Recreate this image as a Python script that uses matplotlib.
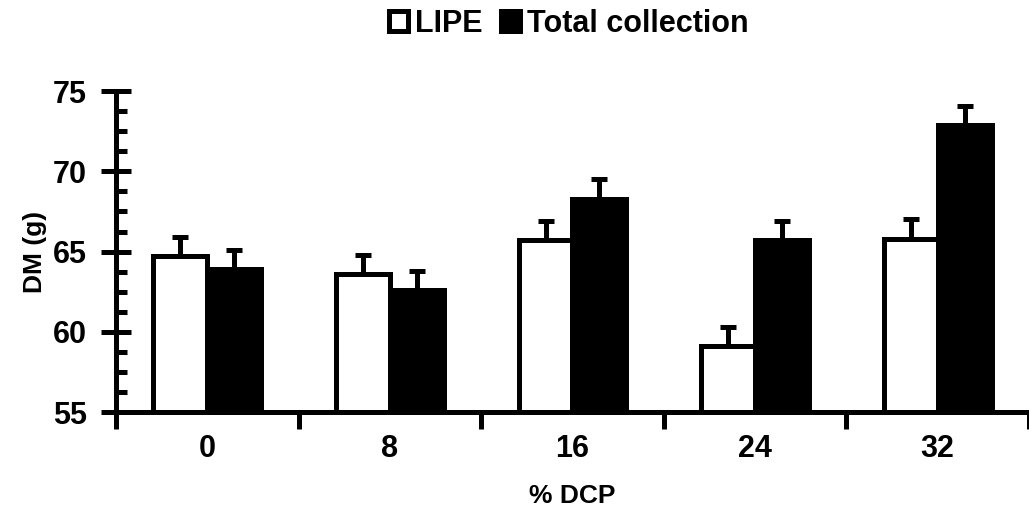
import numpy as np
import matplotlib.pyplot as plt
from matplotlib.patches import Patch
from matplotlib.ticker import MultipleLocator, FixedLocator

plt.rcParams['font.family'] = ['Liberation Sans', 'DejaVu Sans']
plt.rcParams['font.weight'] = 'bold'

groups = ['0', '8', '16', '24', '32']
lipe = [64.7, 63.6, 65.7, 59.1, 65.8]
lipe_err = [1.2, 1.2, 1.2, 1.2, 1.2]
total = [63.9, 62.6, 68.3, 65.7, 72.9]
total_err = [1.2, 1.2, 1.2, 1.2, 1.2]

x = np.arange(len(groups))
w = 0.295
lw = 3.6

fig = plt.figure(figsize=(10.29, 5.26), dpi=100)
ax = fig.add_axes([0.1127, 0.2167, 0.8873, 0.61])

ekw = dict(elinewidth=lw, capthick=lw, capsize=6, ecolor='black')
ax.bar(x - w / 2, lipe, w, color='white', edgecolor='black', linewidth=lw,
       yerr=[np.zeros(5), lipe_err], error_kw=ekw, zorder=2)
ax.bar(x + w / 2, total, w, color='black', edgecolor='black', linewidth=lw,
       yerr=[np.zeros(5), total_err], error_kw=ekw, zorder=2)

ax.set_ylim(55, 75)
ax.set_xlim(-0.5, 4.5)

for s in ['top', 'right']:
    ax.spines[s].set_visible(False)
for s in ['left', 'bottom']:
    ax.spines[s].set_linewidth(lw)
    ax.spines[s].set_capstyle('round')

ax.yaxis.set_major_locator(MultipleLocator(5))
ax.yaxis.set_minor_locator(MultipleLocator(1.25))
ax.tick_params(axis='y', which='major', direction='inout', length=22, width=lw,
               labelsize=22, pad=10)
ax.tick_params(axis='y', which='minor', direction='in', length=8, width=lw)

ax.set_xticks(x)
ax.set_xticklabels(groups)
ax.xaxis.set_minor_locator(FixedLocator(np.arange(-0.5, 5, 1.0)))
ax.tick_params(axis='x', which='major', length=0, labelsize=22, pad=16)
ax.tick_params(axis='x', which='minor', direction='out', length=12, width=lw)
for lab in ax.get_xticklabels() + ax.get_yticklabels():
    lab.set_fontweight('bold')

ax.set_ylabel('DM (g)', fontsize=19, fontweight='bold', labelpad=4)
ax.set_xlabel('% DCP', fontsize=19, fontweight='bold', labelpad=14)

handles = [Patch(facecolor='white', edgecolor='black', linewidth=lw),
           Patch(facecolor='black', edgecolor='black', linewidth=lw)]
fig.legend(handles, ['LIPE', 'Total collection'], loc='center',
           bbox_to_anchor=(0.553, 0.955), ncol=2, frameon=False,
           handlelength=0.6, handleheight=0.6, handletextpad=0.25,
           columnspacing=0.6, prop={'size': 22, 'weight': 'bold'})

fig.savefig('out.png', dpi=100)
